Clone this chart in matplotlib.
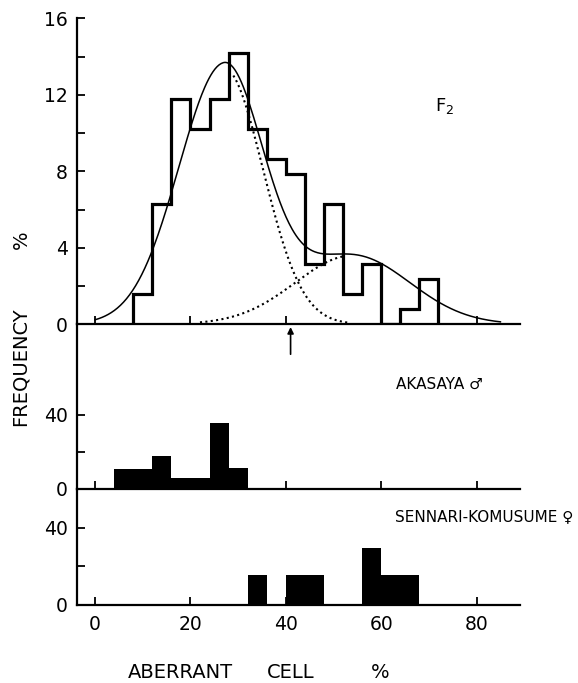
import matplotlib
matplotlib.use("Agg")
import matplotlib.pyplot as plt
import numpy as np

plt.rcParams['font.family'] = ['DejaVu Sans']

# F2 histogram (% frequency), bins of 4 % aberrant cells
f2_edges = [8, 12, 16, 20, 24, 28, 32, 36, 40, 44, 48, 52, 56, 60, 64, 68, 72]
f2_freq = [1.57, 6.3, 11.8, 10.2, 11.8, 14.2, 10.2, 8.66, 7.87, 3.15, 6.3, 1.57, 3.15, 0, 0.79, 2.36]

# fitted components: peak, mean, sd (left, right)
comp1 = dict(peak=13.4, mean=27.0, sd_left=9.5, sd_right=8.2)
comp2 = dict(peak=3.6, mean=54.0, sd_left=12.0, sd_right=12.0)
threshold = 41  # arrow where the two components cross

# parents
akasaya_left = [4, 8, 12, 16, 20, 24, 28]
akasaya_freq = [11.0, 11.0, 17.6, 5.7, 5.7, 35.4, 11.4]
sennari_left = [32, 40, 44, 56, 60, 64]
sennari_freq = [15.5, 15.5, 15.5, 29.7, 15.5, 15.5]


def normal_part(x, c):
    sd = np.where(x < c['mean'], c['sd_left'], c['sd_right'])
    return c['peak'] * np.exp(-(x - c['mean']) ** 2 / (2 * sd ** 2))


fig = plt.figure(figsize=(5.78, 6.83), dpi=100)
H = 683.0
Wpx = 578.0
left = 77.4 / Wpx
width = (519.5 - 77.4) / Wpx
ax_top = fig.add_axes([left, 1 - 324.3 / H, width, (324.3 - 18.3) / H])
ax_mid = fig.add_axes([left, 1 - 489 / H, width, (489 - 324.3) / H])
ax_bot = fig.add_axes([left, 1 - 605 / H, width, (605 - 489) / H])

for ax in (ax_top, ax_mid, ax_bot):
    ax.set_xlim(-3.7, 89)
    ax.spines['top'].set_visible(False)
    ax.spines['right'].set_visible(False)
    ax.spines['left'].set_linewidth(1.6)
    ax.spines['bottom'].set_linewidth(1.6)
    ax.patch.set_visible(False)
    ax.set_xticks([0, 20, 40, 60, 80])
    ax.tick_params(direction='in', length=6, width=1.3, labelsize=13.5, pad=7)
    ax.tick_params(axis='x', labelbottom=False)

# top panel
ax_top.set_ylim(0, 16)
ax_top.set_yticks(np.arange(0, 17, 2))
ax_top.set_yticklabels(['0', '', '4', '', '8', '', '12', '', '16'])
ax_top.stairs(f2_freq, f2_edges, color='black', linewidth=2.3, baseline=0)

xs = np.linspace(0, 85, 400)
ax_top.plot(xs, normal_part(xs, comp1) + normal_part(xs, comp2), color='black', lw=1.1)
x1 = np.linspace(29, 53, 200)
ax_top.plot(x1, normal_part(x1, comp1), color='black', lw=1.5, linestyle=(0, (1, 1.6)))
x2 = np.linspace(22, 52.5, 200)
ax_top.plot(x2, normal_part(x2, comp2), color='black', lw=1.5, linestyle=(0, (1, 1.6)))
ax_top.text(71.3, 11.4, 'F$_2$', fontsize=13, ha='left', va='center')

# middle panel
ax_mid.set_ylim(0, 88.6)
ax_mid.set_yticks([0, 20, 40])
ax_mid.set_yticklabels(['0', '', '40'])
ax_mid.bar(akasaya_left, akasaya_freq, width=4, align='edge', color='black', linewidth=0)
ax_mid.text(63.1, 56.5, 'AKASAYA \u2642', fontsize=11, ha='left', va='center')
ax_mid.annotate('', xy=(threshold, 88.6), xytext=(threshold, 71),
                arrowprops=dict(arrowstyle='-|>', color='black', lw=1.2, mutation_scale=9),
                annotation_clip=False)

# bottom panel
ax_bot.set_ylim(0, 60)
ax_bot.set_yticks([0, 20, 40])
ax_bot.set_yticklabels(['0', '', '40'])
ax_bot.bar(sennari_left, sennari_freq, width=4, align='edge', color='black', linewidth=0)
ax_bot.text(62.9, 45.5, 'SENNARI-KOMUSUME \u2640', fontsize=11, ha='left', va='center')
ax_bot.tick_params(axis='x', labelbottom=True)

# axis titles
fig.text(20 / Wpx, 1 - 367 / H, 'FREQUENCY', rotation=90, fontsize=14, ha='center', va='center')
fig.text(21 / Wpx, 1 - 240 / H, '%', rotation=90, fontsize=14, ha='center', va='center')
fig.text(180 / Wpx, 1 - 672 / H, 'ABERRANT', fontsize=14, ha='center', va='center')
fig.text(291 / Wpx, 1 - 672 / H, 'CELL', fontsize=14, ha='center', va='center')
fig.text(380 / Wpx, 1 - 672 / H, '%', fontsize=14, ha='center', va='center')

fig.savefig('out.png', dpi=100)
